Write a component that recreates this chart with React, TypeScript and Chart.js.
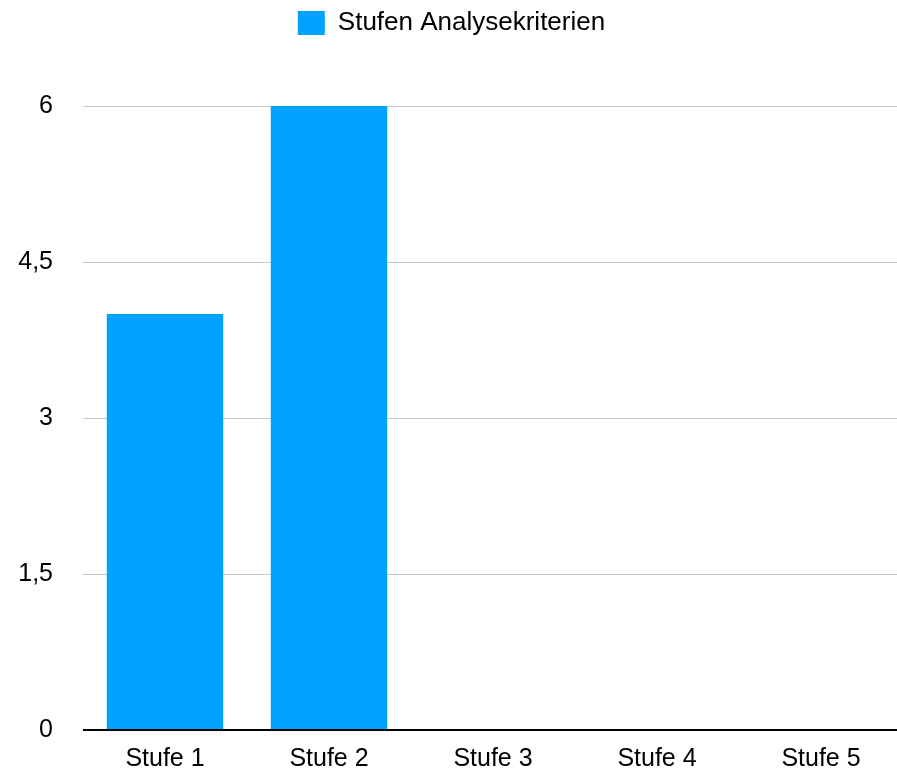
import React, { useEffect, useRef } from "react";
import { Chart, registerables } from "chart.js";

Chart.register(...registerables);

const categories = ["Stufe 1", "Stufe 2", "Stufe 3", "Stufe 4", "Stufe 5"];
const seriesLabel = "Stufen Analysekriterien";
const seriesValues = [4, 6, 0, 0, 0];
const yTicks = [0, 1.5, 3, 4.5, 6];

const FONT = "'Liberation Sans', Arial, Helvetica, sans-serif";

const legendGap = {
  id: "legendGap",
  beforeLayout(chart: any) {
    const lg = chart.legend;
    if (lg && !lg.__gapPatched) {
      const orig = lg.fit;
      lg.fit = function () {
        orig.call(this);
        this.height += 60;
      };
      lg.__gapPatched = true;
    }
  },
};

export default function App() {
  const ref = useRef<HTMLCanvasElement | null>(null);

  useEffect(() => {
    if (!ref.current) return;
    const chart = new Chart(ref.current, {
      type: "bar",
      data: {
        labels: categories,
        datasets: [
          {
            label: seriesLabel,
            data: seriesValues,
            backgroundColor: "#00A2FF",
            borderWidth: 0,
            categoryPercentage: 1,
            barPercentage: 0.71,
          },
        ],
      },
      plugins: [legendGap],
      options: {
        responsive: false,
        animation: false,
        devicePixelRatio: 1,
        layout: { padding: { top: 0, left: 0, right: 0, bottom: 0 } },
        plugins: {
          tooltip: { enabled: false },
          legend: {
            position: "top",
            align: "center",
            labels: {
              boxWidth: 27,
              boxHeight: 24,
              color: "#000",
              font: { family: FONT, size: 26 },
              padding: 10,
            },
          },
        },
        scales: {
          x: {
            grid: { display: false, drawTicks: false },
            border: { display: false },
            ticks: {
              color: "#000",
              font: { family: FONT, size: 25 },
              padding: 14,
              maxRotation: 0,
            },
            afterFit: (s: any) => {
              s.height = 43;
            },
          },
          y: {
            min: 0,
            max: 6,
            afterBuildTicks: (s: any) => {
              s.ticks = yTicks.map((v) => ({ value: v }));
            },
            grid: {
              drawTicks: false,
              color: (c: any) => (c.tick && c.tick.value === 0 ? "#000" : "#c8c8c8"),
              lineWidth: (c: any) => (c.tick && c.tick.value === 0 ? 2 : 1),
            },
            border: { display: false },
            ticks: {
              color: "#000",
              font: { family: FONT, size: 25 },
              padding: 30,
              callback: (v: any) => String(v).replace(".", ","),
            },
            afterFit: (s: any) => {
              s.width = 83;
            },
          },
        },
      },
    });
    return () => chart.destroy();
  }, []);

  return (
    <div
      style={{
        position: "absolute",
        left: 0,
        top: 0,
        width: 897,
        height: 775,
        overflow: "hidden",
        background: "#fff",
      }}
    >
      <canvas ref={ref} width={903} height={775} style={{ display: "block" }} />
    </div>
  );
}
